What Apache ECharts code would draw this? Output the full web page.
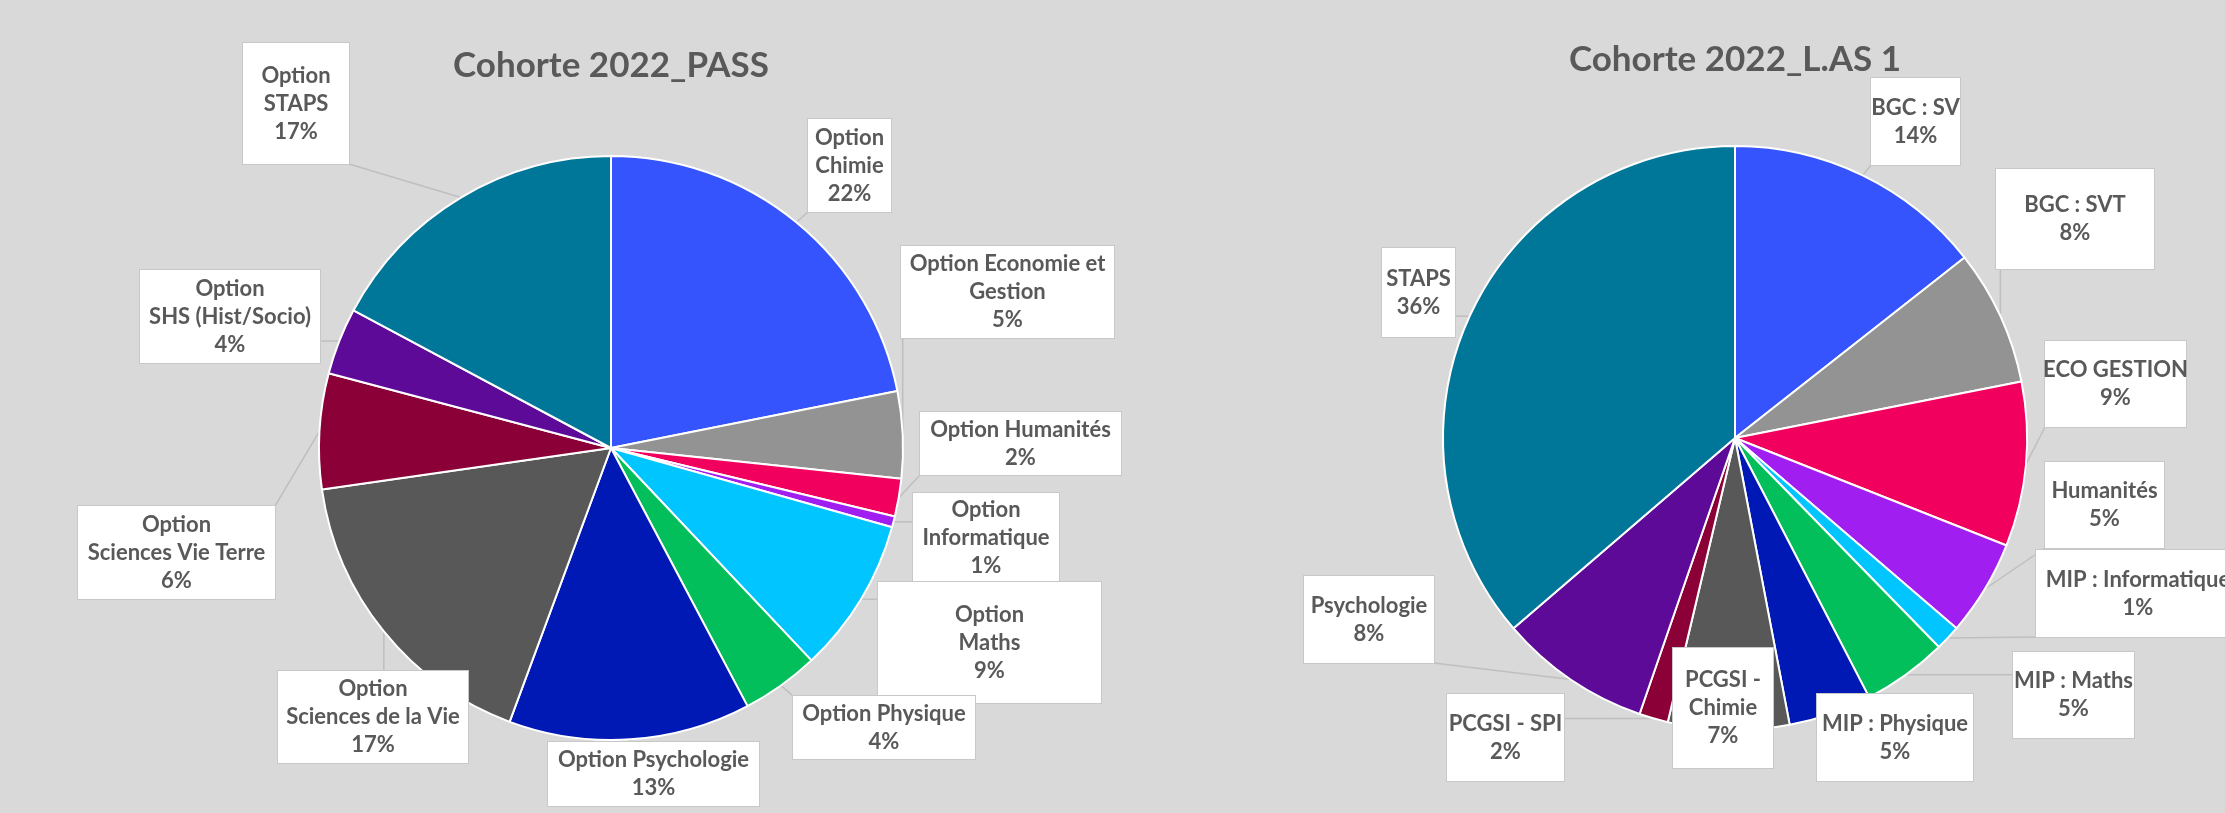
<!DOCTYPE html>
<html>
<head>
<meta charset="utf-8">
<title>Cohorte 2022</title>
<script src="https://cdn.jsdelivr.net/npm/echarts@6/dist/echarts.min.js"></script>
<style>
  html, body { margin: 0; padding: 0; background: #d9d9d9; }
  #main { width: 2225px; height: 813px; }
</style>
</head>
<body>
<div id="main"></div>
<script>
// Cohorte 2022_PASS (sens horaire depuis midi)
var passNames = ["Option\nChimie", "Option Economie et\nGestion", "Option Humanités", "Option\nInformatique",
  "Option\nMaths", "Option Physique", "Option Psychologie", "Option\nSciences de la Vie",
  "Option\nSciences Vie Terre", "Option\nSHS (Hist/Socio)", "Option\nSTAPS"];
var passValues = [21.9, 4.8, 2.1, 0.6, 8.6, 4.3, 13.4, 17.1, 6.4, 3.7, 17.2];

// Cohorte 2022_L.AS 1
var lasNames = ["BGC : SV", "BGC : SVT", "ECO GESTION", "Humanités", "MIP : Informatique", "MIP : Maths",
  "MIP : Physique", "PCGSI -\nChimie", "PCGSI - SPI", "Psychologie", "STAPS"];
var lasValues = [14.4, 7.5, 9.1, 5.3, 1.4, 4.7, 4.6, 6.7, 1.6, 8.4, 36.3];

var titles = ["Cohorte 2022_PASS", "Cohorte 2022_L.AS 1"];

// couleurs des parts, même ordre pour les deux camemberts
var colors = ["#3554fe", "#929392", "#f2005e", "#a01ff0", "#00c5ff", "#03bf5b",
  "#0019b5", "#585858", "#8b0037", "#5e0a98", "#007798"];

// cadres des étiquettes [x0, y0, x1, y1] (px)
var passBoxes = [
  [808, 119, 891, 212], [901, 246, 1114, 338], [920, 412, 1121, 475], [913, 493, 1059, 582],
  [878, 582, 1101, 703], [793, 696, 975, 759], [548, 742, 759, 806], [278, 671, 468, 763],
  [78, 506, 275, 599], [140, 270, 320, 363], [243, 43, 349, 164]
];
var lasBoxes = [
  [1871, 78, 1960, 165], [1996, 169, 2154, 269], [2045, 341, 2186, 427], [2045, 462, 2164, 548],
  [2036, 550, 2240, 637], [2013, 652, 2134, 738], [1817, 694, 1973, 781], [1673, 648, 1773, 768],
  [1447, 694, 1564, 781], [1304, 576, 1434, 663], [1382, 248, 1455, 337]
];

var LINE_H = 28;

function buildData(names, values, boxes) {
  return names.map(function (n, i) {
    var b = boxes[i];
    var lines = n.split("\n").length + 1;
    var pad = (b[3] - b[1] - lines * LINE_H) / 2;
    return {
      name: n,
      value: values[i],
      label: { width: b[2] - b[0], padding: [pad, 0] }
    };
  });
}

// place l'étiquette dans son cadre, trait droit du bord de la part au cadre
function boxLayout(boxes) {
  return function (params) {
    var b = boxes[params.dataIndex];
    var res = { x: (b[0] + b[2]) / 2, y: (b[1] + b[3]) / 2, align: "center", verticalAlign: "middle" };
    var pts = params.labelLinePoints;
    if (pts && pts.length) {
      var p = pts[0];
      var q = [Math.min(Math.max(p[0], b[0]), b[2]), Math.min(Math.max(p[1], b[1]), b[3])];
      res.labelLinePoints = [p, q];
    }
    return res;
  };
}

function pieSeries(name, data, boxes, center) {
  return {
    name: name,
    type: "pie",
    center: center,
    radius: 292,
    startAngle: 90,
    clockwise: true,
    avoidLabelOverlap: false,
    animation: false,
    data: data,
    itemStyle: { borderColor: "#ffffff", borderWidth: 2 },
    label: {
      show: true,
      position: "outside",
      overflow: "none",
      formatter: function (p) {
        return p.name + "\n" + Math.round(p.percent) + "%";
      },
      fontFamily: "Lato",
      fontWeight: "bold",
      fontSize: 22,
      lineHeight: LINE_H,
      color: "#595959",
      backgroundColor: "#ffffff",
      borderColor: "#c8c8c8",
      borderWidth: 1
    },
    labelLine: {
      show: true,
      length: 10,
      length2: 10,
      lineStyle: { color: "#bfbfbf", width: 1.5 }
    },
    labelLayout: boxLayout(boxes),
    emphasis: { disabled: true }
  };
}

var chartDom = document.getElementById("main");
var myChart = echarts.init(chartDom);
var option;
option = {
  backgroundColor: "#d9d9d9",
  color: colors,
  animation: false,
  title: [
    {
      text: titles[0], left: 611, top: 48, textAlign: "center", padding: 0,
      textStyle: { fontFamily: "Lato", fontWeight: "bold", fontSize: 35, color: "#595959" }
    },
    {
      text: titles[1], left: 1735, top: 42, textAlign: "center", padding: 0,
      textStyle: { fontFamily: "Lato", fontWeight: "bold", fontSize: 35, color: "#595959" }
    }
  ],
  series: [
    pieSeries("PASS", buildData(passNames, passValues, passBoxes), passBoxes, [611, 448]),
    pieSeries("L.AS 1", buildData(lasNames, lasValues, lasBoxes), lasBoxes, [1735, 438])
  ]
};

option && myChart.setOption(option);
</script>
</body>
</html>
